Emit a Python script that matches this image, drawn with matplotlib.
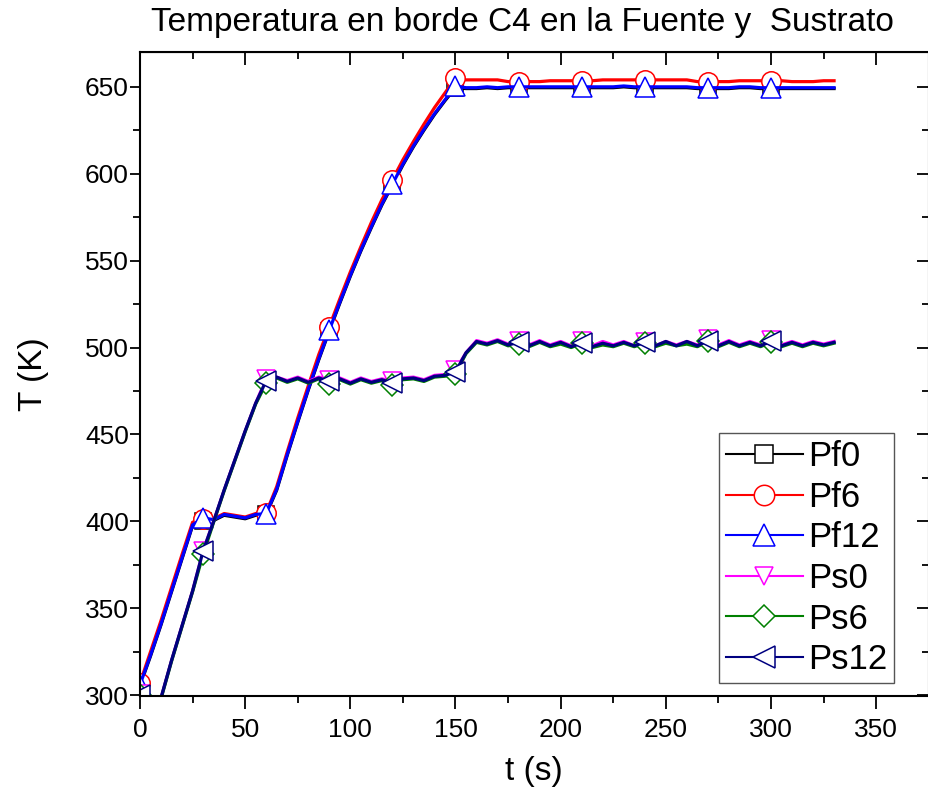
#Temperatura en borde C4 - fuente (Pf) y sustrato (Ps)
import numpy as np
import matplotlib
matplotlib.use('Agg')
import matplotlib.pyplot as plt
from matplotlib.ticker import MultipleLocator

plt.rcParams['font.family'] = ['Liberation Sans', 'DejaVu Sans']

#time grid (s), markers every 30 s up to 300 s
t = np.arange(0, 331, 5)
mark_idx = list(range(0, 61, 6))

#fuente (K)
pf0 = [305.5, 322.5, 340.5, 359.5, 378.5, 397.5, 400.5, 400.5, 403.5, 402.5, 401.5, 403.5, 404,
       418, 438, 457, 475.5, 493, 509.5, 525.5, 541, 555.5, 569, 582, 593.5, 605, 615.5, 625, 634, 642, 649.5,
       649, 649, 649.5, 649, 649.5, 649.5, 649.5, 649.5, 649.5, 649.5, 649.5, 649.5, 649.5, 649.5, 649.5,
       650, 649.5, 649.5, 649.5, 649.5, 649.5, 649.5, 649, 649, 649, 649, 649.5, 649.5, 649, 649, 649, 649,
       649, 649, 649, 649]
pf6 = [307, 325, 343, 362, 381, 399.5, 401.5, 401.5, 404.5, 403.5, 402.5, 404.5, 405,
       420, 440, 459.5, 478, 496, 512, 528, 543.5, 558, 572, 585, 596.5, 608, 618.5, 628.5, 638, 646.5, 655,
       654, 654, 654, 654, 653, 653, 653, 653, 653.5, 653.5, 653.5, 653.5, 653.5, 654, 654, 654,
       654, 654, 654, 654, 654, 654, 653, 653, 653, 653, 653.5, 653.5, 653.5, 653.5, 653.5, 653,
       653, 653, 653.5, 653.5]
pf12 = [306, 323, 341, 360, 379, 398, 402, 401, 404, 403, 402, 404, 404.5,
        418.5, 438.5, 457.5, 476, 493.5, 510, 526, 541.5, 556, 569.5, 582.5, 594, 605.5, 616, 625.5, 634.5, 642.5, 650.5,
        649.5, 649.5, 650, 649.5, 650, 650, 650, 650, 650, 650, 650, 650, 650, 650, 650,
        650.5, 650, 650, 650, 650, 650, 650, 649.5, 649.5, 649.5, 649.5, 650, 650, 649.5, 649.5, 649.5, 649.5,
        649.5, 649.5, 649.5, 649.5]

#sustrato (K)
ps0 = [300.5, 297, 298.5, 320, 340, 360, 383, 400, 418, 435, 452, 468, 482,
       483, 481, 483, 480.5, 483, 481.5, 482.5, 480, 482.5, 480.5, 482, 480.5, 482.5, 483, 481.5, 484, 484.5, 487,
       497, 504, 502.5, 504.5, 502, 504, 501.5, 504, 501.5, 503.5, 501, 503.5, 501, 503.5, 501.5, 503.5,
       501, 503, 501, 503.5, 501.5, 503.5, 501.5, 505, 501.5, 504, 501.5, 503.5, 501.5, 504.5, 501.5, 503.5,
       501.5, 503.5, 502, 503.5]
ps6 = [300, 296.5, 298, 319.5, 339.5, 359.5, 381, 399.5, 417.5, 434.5, 451.5, 467.5, 479.5,
       482.5, 480, 482, 479.5, 482, 479, 481.5, 479, 481.5, 479.5, 481, 478.5, 481.5, 482, 480.5, 483, 483.5, 485,
       496.5, 503, 501.5, 503.5, 501, 502, 500.5, 503, 500.5, 502, 500, 502.5, 500, 501.5, 500.5, 502.5,
       500.5, 502.5, 500.5, 502.5, 501, 502, 500.5, 503.5, 500.5, 503, 500.5, 502.5, 500.5, 503, 500.5, 502.5,
       500.5, 502.5, 501, 502.5]
ps12 = [300, 297, 298.5, 320, 340, 360, 383, 400, 418, 435, 452, 468, 481,
        483, 480.5, 482.5, 480, 482.5, 480.5, 482, 479.5, 482, 480, 481.5, 479.5, 482, 482.5, 481, 483.5, 484, 486,
        497, 503.5, 502, 504, 501.5, 503, 501, 503.5, 501, 503, 500.5, 502.5, 500.5, 502.5, 501, 503,
        501, 503, 501, 503.5, 501, 503.5, 501, 504, 501, 503.5, 501, 503, 501, 503.5, 501, 503,
        501, 503, 501.5, 503]

labels = ['Pf0', 'Pf6', 'Pf12', 'Ps0', 'Ps6', 'Ps12']
colors = ['#000000', '#FF0000', '#0000FF', '#FF00FF', '#008000', '#000080']
markers = ['s', 'o', '^', 'v', 'D', '<']
msizes = [12, 14, 15, 13, 11, 15]

fig = plt.figure(figsize=(9.29, 8.01), dpi=100)
ax = fig.add_axes([0.1507, 0.131, 0.849, 0.804])

for y, lab, c, m, ms in zip([pf0, pf6, pf12, ps0, ps6, ps12], labels, colors, markers, msizes):
    ax.plot(t, y, color=c, lw=2.3, marker=m, markevery=mark_idx, ms=ms,
            mfc='white', mec=c, mew=1.1, label=lab)

ax.set_xlim(0, 375)
ax.set_ylim(299.5, 670)
ax.xaxis.set_major_locator(MultipleLocator(50))
ax.xaxis.set_minor_locator(MultipleLocator(25))
ax.yaxis.set_major_locator(MultipleLocator(50))
ax.yaxis.set_minor_locator(MultipleLocator(25))
ax.tick_params(which='major', direction='out', length=8, width=1.3, labelsize=19)
ax.tick_params(axis='x', which='major', length=9, pad=7)
ax.tick_params(axis='y', which='major', length=7, pad=1)
ax.tick_params(which='minor', direction='out', length=5, width=1.3)
for s in ax.spines.values():
    s.set_linewidth(1.5)

#top and right ticks point inward
top = ax.secondary_xaxis('top')
top.xaxis.set_major_locator(MultipleLocator(50))
top.xaxis.set_minor_locator(MultipleLocator(25))
top.tick_params(which='major', direction='in', length=9, width=1.3, labeltop=False)
top.tick_params(which='minor', direction='in', length=5, width=1.3)
right = ax.secondary_yaxis('right')
right.yaxis.set_major_locator(MultipleLocator(50))
right.yaxis.set_minor_locator(MultipleLocator(25))
right.tick_params(which='major', direction='in', length=9, width=1.3, labelright=False)
right.tick_params(which='minor', direction='in', length=5, width=1.3)

ax.set_xlabel('t (s)', fontsize=24, labelpad=10)
ax.set_ylabel('T (K)', fontsize=24, labelpad=26)
fig.text(0.562, 0.972, 'Temperatura en borde C4 en la Fuente y  Sustrato', fontsize=24,
         ha='center', va='center')

leg = ax.legend(loc='lower right', bbox_to_anchor=(0.956, 0.02), fontsize=25, fancybox=False,
                edgecolor='#555555', framealpha=1, handlelength=2.2, labelspacing=0.22,
                handletextpad=0.15, borderpad=0.2, borderaxespad=0.0, markerscale=1.05)
leg.get_frame().set_linewidth(1.0)
for h in leg.get_lines():
    h.set_linewidth(1.5)

fig.savefig('out.png', dpi=100)
